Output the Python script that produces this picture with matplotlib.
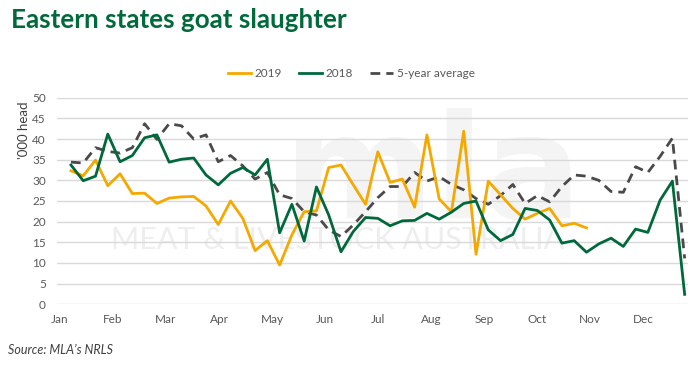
import matplotlib.pyplot as plt
import numpy as np

# weekly goat slaughter, '000 head
y2019 = [32.3, 31.1, 34.9, 28.7, 31.6, 26.8, 26.9, 24.4, 25.7, 26.0, 26.1, 23.8, 19.3,
         25.0, 20.8, 13.0, 15.4, 9.5, 16.8, 22.4, 22.6, 33.1, 33.7, 28.9, 24.2, 36.9,
         29.5, 30.3, 23.5, 41.0, 25.5, 22.4, 41.9, 12.1, 29.8, 26.5, 23.2, 20.6, 22.0,
         23.2, 19.0, 19.6, 18.5]
y2018 = [33.7, 29.9, 31.0, 41.2, 34.5, 36.0, 40.3, 41.0, 34.4, 35.1, 35.4, 31.3, 28.9,
         31.7, 33.1, 31.3, 35.1, 17.3, 24.2, 15.3, 28.4, 21.6, 12.7, 17.6, 21.0, 20.8,
         19.0, 20.2, 20.3, 22.0, 20.6, 22.3, 24.4, 25.0, 18.0, 15.4, 16.9, 23.2, 22.7,
         20.4, 14.8, 15.4, 12.6, 14.6, 16.0, 14.0, 18.2, 17.4, 25.2, 29.8, 2.4]
avg5 = [34.4, 34.2, 37.9, 37.0, 36.6, 37.9, 43.7, 39.9, 43.7, 43.2, 40.0, 41.0, 34.5,
        36.0, 33.5, 30.3, 31.9, 26.5, 25.6, 22.4, 21.6, 18.0, 16.4, 19.2, 22.4, 25.8,
        28.5, 28.5, 31.9, 29.8, 30.9, 29.0, 27.7, 25.6, 24.2, 26.3, 29.0, 24.4, 26.3,
        24.8, 28.5, 31.3, 31.0, 30.0, 27.3, 27.1, 33.3, 31.9, 35.8, 40.2, 11.1]
months = ['Jan', 'Feb', 'Mar', 'Apr', 'May', 'Jun', 'Jul', 'Aug', 'Sep', 'Oct', 'Nov', 'Dec']

plt.rcParams['font.family'] = ['Lato', 'DejaVu Sans']

fig = plt.figure(figsize=(7, 3.66), dpi=100)
ax = fig.add_axes([0.0814, 0.1686, 0.9016, 0.5645])

# faint MLA watermark behind the lines
ax.text(0.596, 0.418, 'mla', transform=ax.transAxes, fontsize=104, fontweight='bold',
        family='DejaVu Sans', color='#f4f4f4', ha='center', va='baseline', zorder=0)
ax.text(0.444, 0.31, 'MEAT & LIVESTOCK AUSTRALIA', transform=ax.transAxes, fontsize=22,
        color='#eeeeee', ha='center', va='center', zorder=0)

ax.plot(np.arange(len(y2019)), y2019, color='#f5a800', lw=2, label='2019', zorder=3)
ax.plot(np.arange(len(y2018)), y2018, color='#00693c', lw=2, label='2018', zorder=4)
ax.plot(np.arange(len(avg5)), avg5, color='#4a4a4a', lw=2, ls=(0, (3.5, 2.2)),
        label='5-year average', zorder=2)

ax.set_xlim(-1.14, 50.28)
ax.set_ylim(0, 50)
ax.set_yticks(np.arange(0, 51, 5))
ax.set_xticks(-0.9 + 4.32 * np.arange(12))
ax.set_xticklabels(months)
ax.tick_params(length=0, labelsize=8.5, colors='#595959')
ax.tick_params(axis='y', pad=8)
ax.tick_params(axis='x', pad=7)
ax.grid(axis='y', color='#d9d9d9', lw=1)
ax.set_axisbelow(True)
for s in ax.spines.values():
    s.set_visible(False)

fig.text(0.034, 0.645, "'000 head", rotation=90, fontsize=9.5, color='#404040',
         ha='center', va='center')

fig.legend(loc='center', bbox_to_anchor=(0.502, 0.80), ncol=3, frameon=False,
           fontsize=8.5, handlelength=2.0, columnspacing=1.4, handletextpad=0.3,
           labelcolor='#595959')

fig.text(0.016, 0.945, 'Eastern states goat slaughter', fontsize=18.7, fontweight='bold',
         color='#006a3b', va='center', ha='left')
fig.text(0.012, 0.045, "Source: MLA\u2019s NRLS", fontsize=9, style='italic',
         color='#404040', va='center', ha='left')

plt.savefig('out.png', dpi=100)
